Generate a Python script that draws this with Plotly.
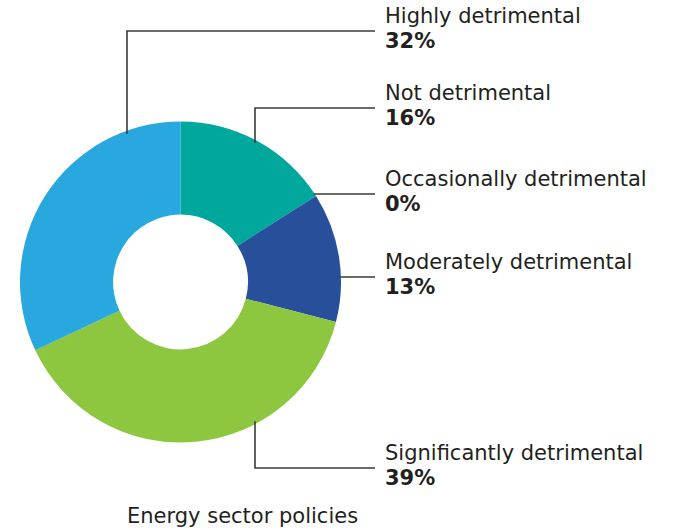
import math
import plotly.graph_objects as go

# Survey responses (share of respondents, %), clockwise from 12 o'clock
categories = [
    "Not detrimental",
    "Occasionally detrimental",
    "Moderately detrimental",
    "Significantly detrimental",
    "Highly detrimental",
]
shares = [16, 0, 13, 39, 32]
colors = ["#00A79D", "#00A79D", "#284F99", "#8DC63F", "#29A8E0"]
chart_title = "Energy sector policies"

W, H = 675, 531
CX, CY, R = 180.5, 282.0, 160.5   # ring centre / outer radius in px
HOLE = 0.42

# label placement: (label y-centre, elbow x or None for straight line)
label_layout = {
    "Highly detrimental": (31, 127),
    "Not detrimental": (108, 255),
    "Occasionally detrimental": (194, None),
    "Moderately detrimental": (277, None),
    "Significantly detrimental": (468, 255),
}
LABEL_X = 383
LINE_END_X = 375
FONT = "DejaVu Sans"
FONT_SIZE = 21
TEXT_COLOR = "#231F20"
LINE_COLOR = "#3A3A3A"

fig = go.Figure()
fig.add_trace(go.Pie(
    labels=categories,
    values=shares,
    sort=False,
    direction="clockwise",
    rotation=0,
    hole=HOLE,
    marker=dict(colors=colors, line=dict(width=0)),
    textinfo="none",
    hoverinfo="label+percent",
    showlegend=False,
    domain=dict(x=[(CX - R) / W, (CX + R) / W],
                y=[1 - (CY + R) / H, 1 - (CY - R) / H]),
))

shapes = []
annotations = []
for cat, val in zip(categories, shares):
    ly, elbow = label_layout[cat]
    if elbow is None:
        # horizontal leader from the ring edge at the label's height
        x0 = CX + math.sqrt(max(R * R - (ly - CY) ** 2, 0)) - 1
        path = f"M {x0},{ly} L {LINE_END_X},{ly}"
    else:
        # vertical leader from the ring edge, then across to the label
        dy = math.sqrt(max(R * R - (elbow - CX) ** 2, 0)) - 3
        y0 = CY - dy if ly < CY else CY + dy
        path = f"M {elbow},{y0} L {elbow},{ly} L {LINE_END_X},{ly}"
    shapes.append(dict(type="path", path=path, xref="x", yref="y",
                       line=dict(color=LINE_COLOR, width=1.6)))
    annotations.append(dict(
        x=LABEL_X, y=ly - 15.5, xref="x", yref="y", text=cat,
        showarrow=False, xanchor="left", yanchor="middle",
        font=dict(family=FONT, size=FONT_SIZE, color=TEXT_COLOR)))
    annotations.append(dict(
        x=LABEL_X, y=ly + 10, xref="x", yref="y", text=f"<b>{val}%</b>",
        showarrow=False, xanchor="left", yanchor="middle",
        font=dict(family=FONT, size=FONT_SIZE, color=TEXT_COLOR)))

annotations.append(dict(
    x=125, y=516, xref="x", yref="y", text=chart_title,
    showarrow=False, xanchor="left", yanchor="middle",
    font=dict(family=FONT, size=FONT_SIZE, color=TEXT_COLOR)))

fig.update_layout(
    width=W, height=H,
    margin=dict(l=0, r=0, t=0, b=0),
    paper_bgcolor="white", plot_bgcolor="white",
    xaxis=dict(range=[0, W], visible=False, fixedrange=True),
    yaxis=dict(range=[H, 0], visible=False, fixedrange=True),
    shapes=shapes,
    annotations=annotations,
)

fig.write_html("out.html")
